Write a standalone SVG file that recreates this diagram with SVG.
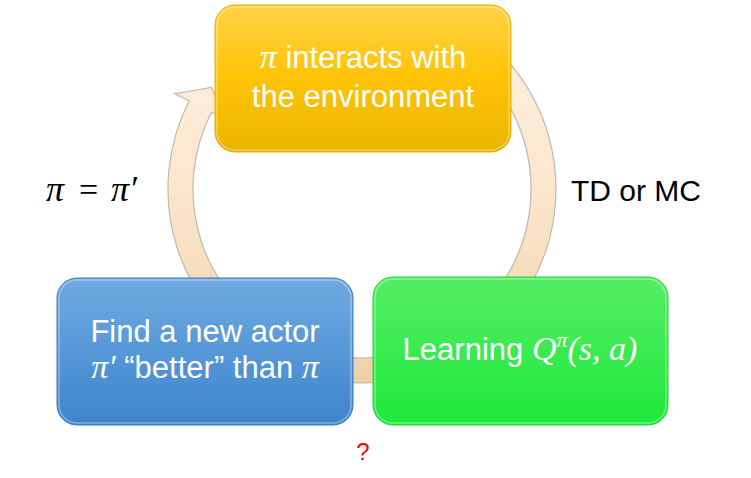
<svg xmlns="http://www.w3.org/2000/svg" width="751" height="478" viewBox="0 0 751 478">
<defs>
<linearGradient id="ringG" gradientUnits="userSpaceOnUse" x1="0" y1="0" x2="0" y2="385">
<stop offset="0" stop-color="#fff2e4"/>
<stop offset="0.5" stop-color="#fce6cc"/>
<stop offset="1" stop-color="#eed0a6"/>
</linearGradient>
<linearGradient id="yelG" x1="0" y1="0" x2="0" y2="1">
<stop offset="0" stop-color="#ffd347"/>
<stop offset="0.5" stop-color="#ffc306"/>
<stop offset="1" stop-color="#e9b500"/>
</linearGradient>
<linearGradient id="bluG" x1="0" y1="0" x2="0" y2="1">
<stop offset="0" stop-color="#71a9e0"/>
<stop offset="0.5" stop-color="#5698d8"/>
<stop offset="1" stop-color="#3e84ca"/>
</linearGradient>
<linearGradient id="grnG" x1="0" y1="0" x2="0" y2="1">
<stop offset="0" stop-color="#55ed63"/>
<stop offset="0.5" stop-color="#3aeb50"/>
<stop offset="1" stop-color="#1ee83b"/>
</linearGradient>
<style>
.lbl{font-family:"Liberation Sans",Arial,sans-serif;font-size:31px;fill:#ffffff;text-anchor:middle}
.math{font-family:"Liberation Serif","DejaVu Serif",serif;font-style:italic}
.out{font-family:"Liberation Sans",Arial,sans-serif;font-size:30px;fill:#000000}
.hl{fill:none;stroke:#ffffff;stroke-opacity:0.35;stroke-width:1.5}
</style>
</defs>
<g id="connectors">
<path id="cycle-arrow" d="M459,21 A194,194 0 1 1 189.1,100.9 L174.9,93.7 L211.5,87.5 L225.7,119.5 L211.4,112.3 A169,169 0 1 0 446.5,42.6 Z" fill="url(#ringG)" stroke="#bfb8b0" stroke-width="1.2"/>
</g>
<g id="node-interact">
<rect x="215" y="5" width="296" height="147" rx="20" fill="url(#yelG)" stroke="#e2b000" stroke-width="1"/>
<rect x="217" y="7" width="292" height="143" rx="18" class="hl"/>
<text class="lbl" x="363" y="68"><tspan class="math" font-size="34">π</tspan> interacts with</text>
<text class="lbl" x="363" y="107">the environment</text>
</g>
<g id="node-learning">
<rect x="373" y="277" width="295" height="148" rx="20" fill="url(#grnG)" stroke="#20d83a" stroke-width="1"/>
<rect x="375" y="279" width="291" height="144" rx="18" class="hl"/>
<text class="lbl" x="520" y="360">Learning <tspan class="math" font-size="34">Q</tspan><tspan class="math" font-size="22" dy="-13">π</tspan><tspan class="math" font-size="34" dy="13">(s, a)</tspan></text>
</g>
<g id="node-find">
<rect x="57" y="278" width="296" height="147" rx="20" fill="url(#bluG)" stroke="#3a7dc0" stroke-width="1"/>
<rect x="59" y="280" width="292" height="143" rx="18" class="hl"/>
<text class="lbl" x="205" y="342">Find a new actor</text>
<text class="lbl" x="205" y="378"><tspan class="math" font-size="34">π′</tspan> “better” than <tspan class="math" font-size="34">π</tspan></text>
</g>
<g id="labels">
<text x="46" y="201" font-family="Liberation Serif,DejaVu Serif,serif" font-size="36" fill="#000000"><tspan font-style="italic">π</tspan><tspan x="79" font-size="34">=</tspan><tspan x="111" font-style="italic">π′</tspan></text>
<text class="out" x="571" y="201">TD or MC</text>
<text x="363" y="460" font-family="Liberation Sans,Arial,sans-serif" font-size="24" fill="#ff0000" text-anchor="middle">?</text>
</g>
</svg>
